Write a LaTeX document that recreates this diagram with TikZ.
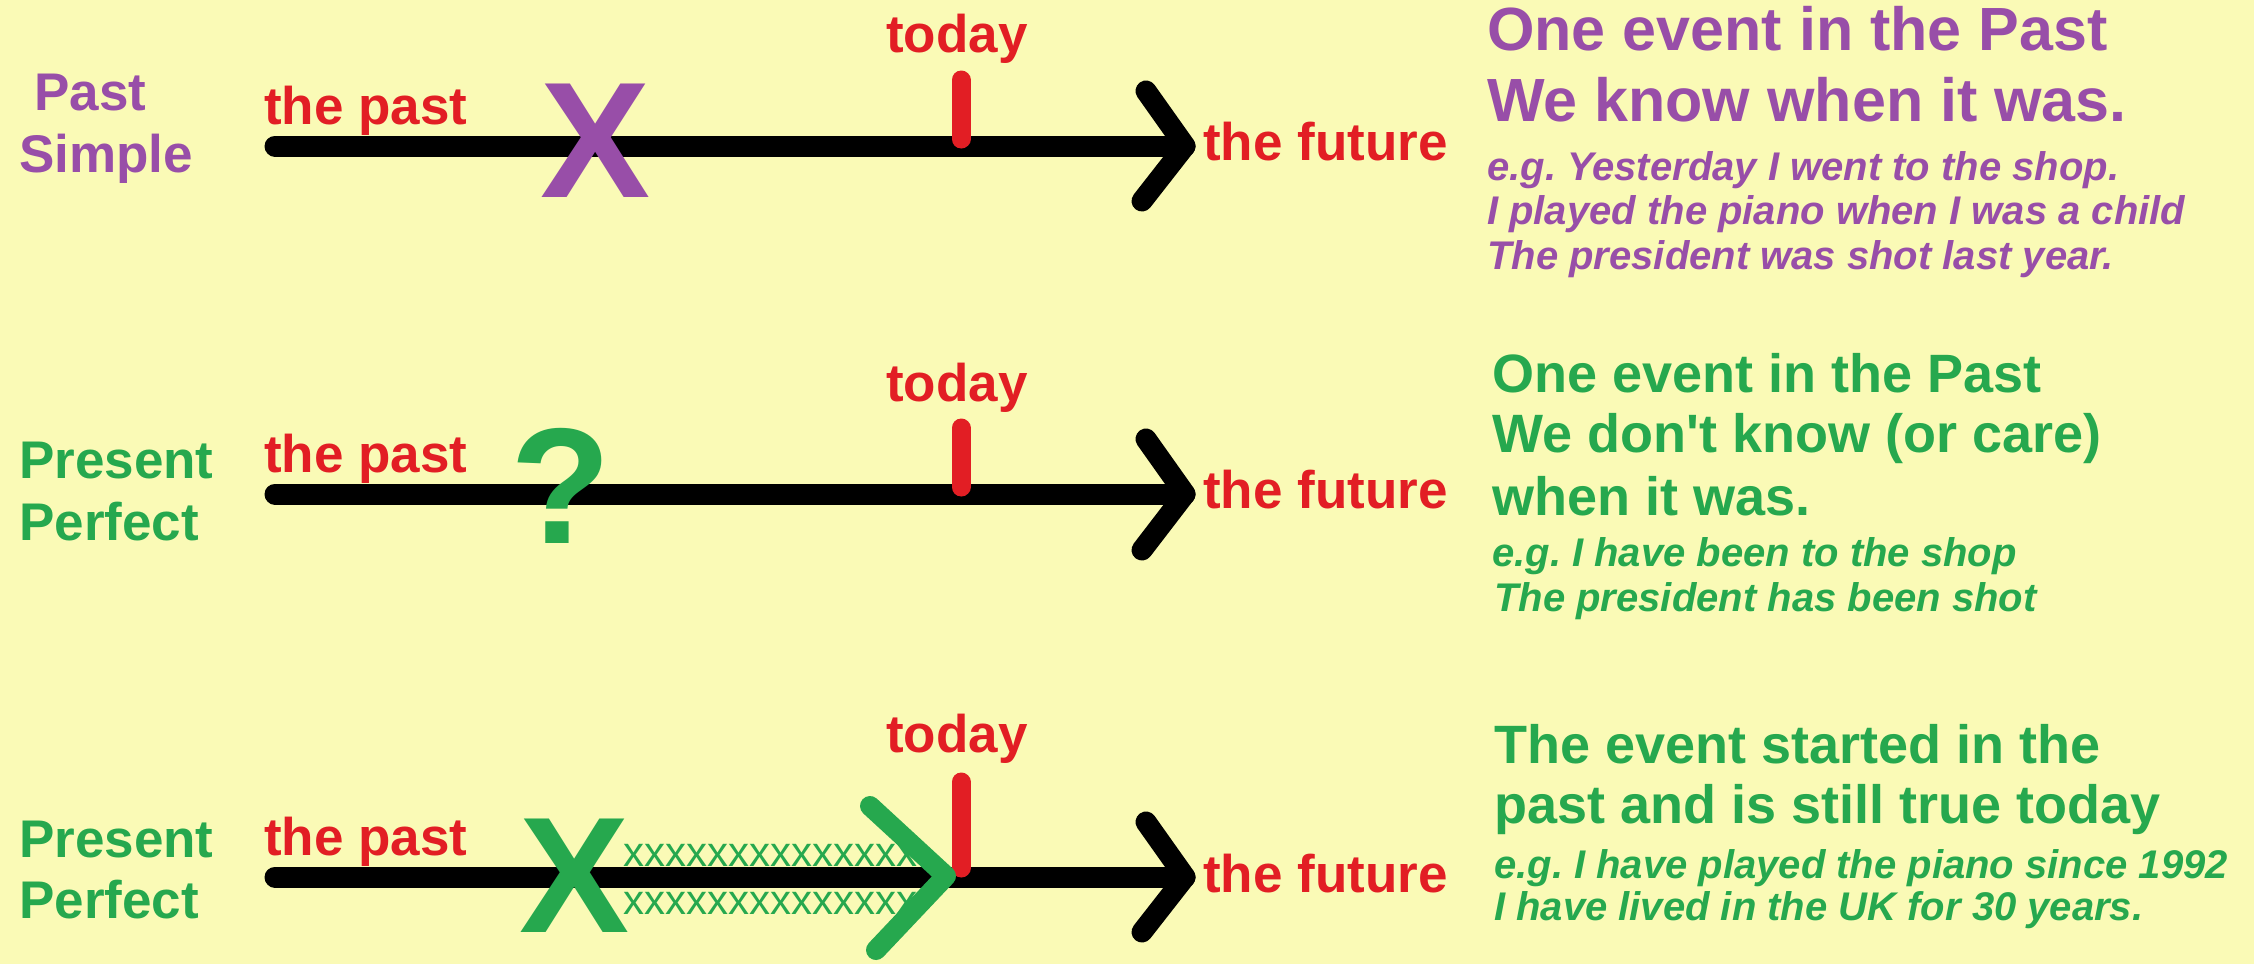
\documentclass[tikz,border=0pt]{standalone}
\usepackage{fontspec}
\setmainfont{Liberation Sans}[Ligatures=TeXOff]

\definecolor{paper}{RGB}{250,250,182}
\definecolor{pastpurple}{RGB}{152,78,168}
\definecolor{perfgreen}{RGB}{38,168,78}
\definecolor{nowred}{RGB}{226,30,36}

\begin{document}
\frenchspacing
\begin{tikzpicture}[x=1pt, y=-1pt,
        every node/.style={inner sep=0pt, anchor=base west},
        tense/.style={font=\bfseries\fontsize{53}{60}\selectfont},
        pointlabel/.style={font=\bfseries\fontsize{53}{60}\selectfont, text=nowred},
        bigmark/.style={anchor=center, font=\bfseries\fontsize{165}{170}\selectfont},
        bighead/.style={font=\bfseries\fontsize{61}{70}\selectfont, text=pastpurple},
        headline/.style={font=\bfseries\fontsize{54}{60}\selectfont, text=perfgreen},
        example/.style={font=\bfseries\itshape\fontsize{40}{46}\selectfont},
        xrow/.style={font=\fontsize{42}{46}\selectfont, text=perfgreen},
        timeline/.style={draw=black, line width=21pt, line cap=round, line join=round},
        nowtick/.style={draw=nowred, line width=19pt, line cap=round},
        sincemark/.style={draw=perfgreen, line width=20pt, line cap=round, line join=round}
    ]
    \fill[paper] (0,0) rectangle (2254,964);

    % past simple
    \node[tense, text=pastpurple] (simple1a) at (34, 110)  {Past};
    \node[tense, text=pastpurple] (simple1b) at (19, 172)  {Simple};
    \node[pointlabel]             (past1)    at (264, 124) {the past};
    \node[pointlabel, anchor=base] (today1)  at (957, 52)  {today};
    \node[pointlabel]             (future1)  at (1203, 160) {the future};
    \coordinate (start1) at (275, 146);
    \coordinate (tip1)   at (1185, 146);
    \coordinate (up1)    at (1146, 91);
    \coordinate (down1)  at (1142, 201);
    \coordinate (now1a)  at (961, 80);
    \coordinate (now1b)  at (961, 139);
    \draw[timeline] (start1) -- (tip1);
    \draw[timeline] (up1) -- (tip1) -- (down1);
    \draw[nowtick]  (now1a) -- (now1b);
    \node[bigmark, text=pastpurple] (event1) at (596, 141) {X};
    \node[bighead] (head1a) at (1487, 50)  {One event in the Past};
    \node[bighead] (head1b) at (1487, 121) {We know when it was.};
    \node[example, text=pastpurple] (eg1a) at (1487, 180) {e.g. Yesterday I went to the shop.};
    \node[example, text=pastpurple] (eg1b) at (1487, 224) {I played the piano when I was a child};
    \node[example, text=pastpurple] (eg1c) at (1487, 269) {The president was shot last year.};

    % present perfect, one event
    \node[tense, text=perfgreen] (perfect2a) at (19, 478)  {Present};
    \node[tense, text=perfgreen] (perfect2b) at (19, 540)  {Perfect};
    \node[pointlabel]             (past2)    at (264, 472) {the past};
    \node[pointlabel, anchor=base] (today2)  at (957, 401) {today};
    \node[pointlabel]             (future2)  at (1203, 508) {the future};
    \coordinate (start2) at (275, 494);
    \coordinate (tip2)   at (1185, 494);
    \coordinate (up2)    at (1146, 439);
    \coordinate (down2)  at (1142, 550);
    \coordinate (now2a)  at (961, 428);
    \coordinate (now2b)  at (961, 487);
    \draw[timeline] (start2) -- (tip2);
    \draw[timeline] (up2) -- (tip2) -- (down2);
    \draw[nowtick]  (now2a) -- (now2b);
    \node[bigmark, text=perfgreen] (event2) at (561, 486) {?};
    \node[headline] (head2a) at (1492, 392) {One event in the Past};
    \node[headline] (head2b) at (1492, 452) {We don't know (or care)};
    \node[headline] (head2c) at (1492, 515) {when it was.};
    \node[example, text=perfgreen] (eg2a) at (1492, 566) {e.g. I have been to the shop};
    \node[example, text=perfgreen] (eg2b) at (1494, 611) {The president has been shot};

    % present perfect, still true
    \node[tense, text=perfgreen] (perfect3a) at (19, 857)  {Present};
    \node[tense, text=perfgreen] (perfect3b) at (19, 918)  {Perfect};
    \node[pointlabel]             (past3)    at (264, 855) {the past};
    \node[pointlabel, anchor=base] (today3)  at (957, 752) {today};
    \node[pointlabel]             (future3)  at (1203, 892) {the future};
    \coordinate (start3) at (275, 877);
    \coordinate (tip3)   at (1185, 877);
    \coordinate (up3)    at (1146, 822);
    \coordinate (down3)  at (1142, 932);
    \coordinate (now3a)  at (961, 782);
    \coordinate (now3b)  at (961, 868);
    \draw[timeline] (start3) -- (tip3);
    \draw[timeline] (up3) -- (tip3) -- (down3);
    \draw[nowtick]  (now3a) -- (now3b);
    \node[bigmark, text=perfgreen] (event3) at (575, 876) {X};
    \node[xrow] (since3a) at (623, 866) {xxxxxxxxxxxxxx};
    \node[xrow] (since3b) at (623, 914) {xxxxxxxxxxxxxx};
    \coordinate (since3up)   at (870, 806);
    \coordinate (since3tip)  at (946, 876);
    \coordinate (since3down) at (876, 950);
    \draw[sincemark] (since3up) -- (since3tip) -- (since3down);
    \node[headline] (head3a) at (1494, 763) {The event started in the};
    \node[headline] (head3b) at (1494, 823) {past and is still true today};
    \node[example, text=perfgreen] (eg3a) at (1494, 878) {e.g. I have played the piano since 1992};
    \node[example, text=perfgreen] (eg3b) at (1494, 920) {I have lived in the UK for 30 years.};
\end{tikzpicture}
\end{document}
